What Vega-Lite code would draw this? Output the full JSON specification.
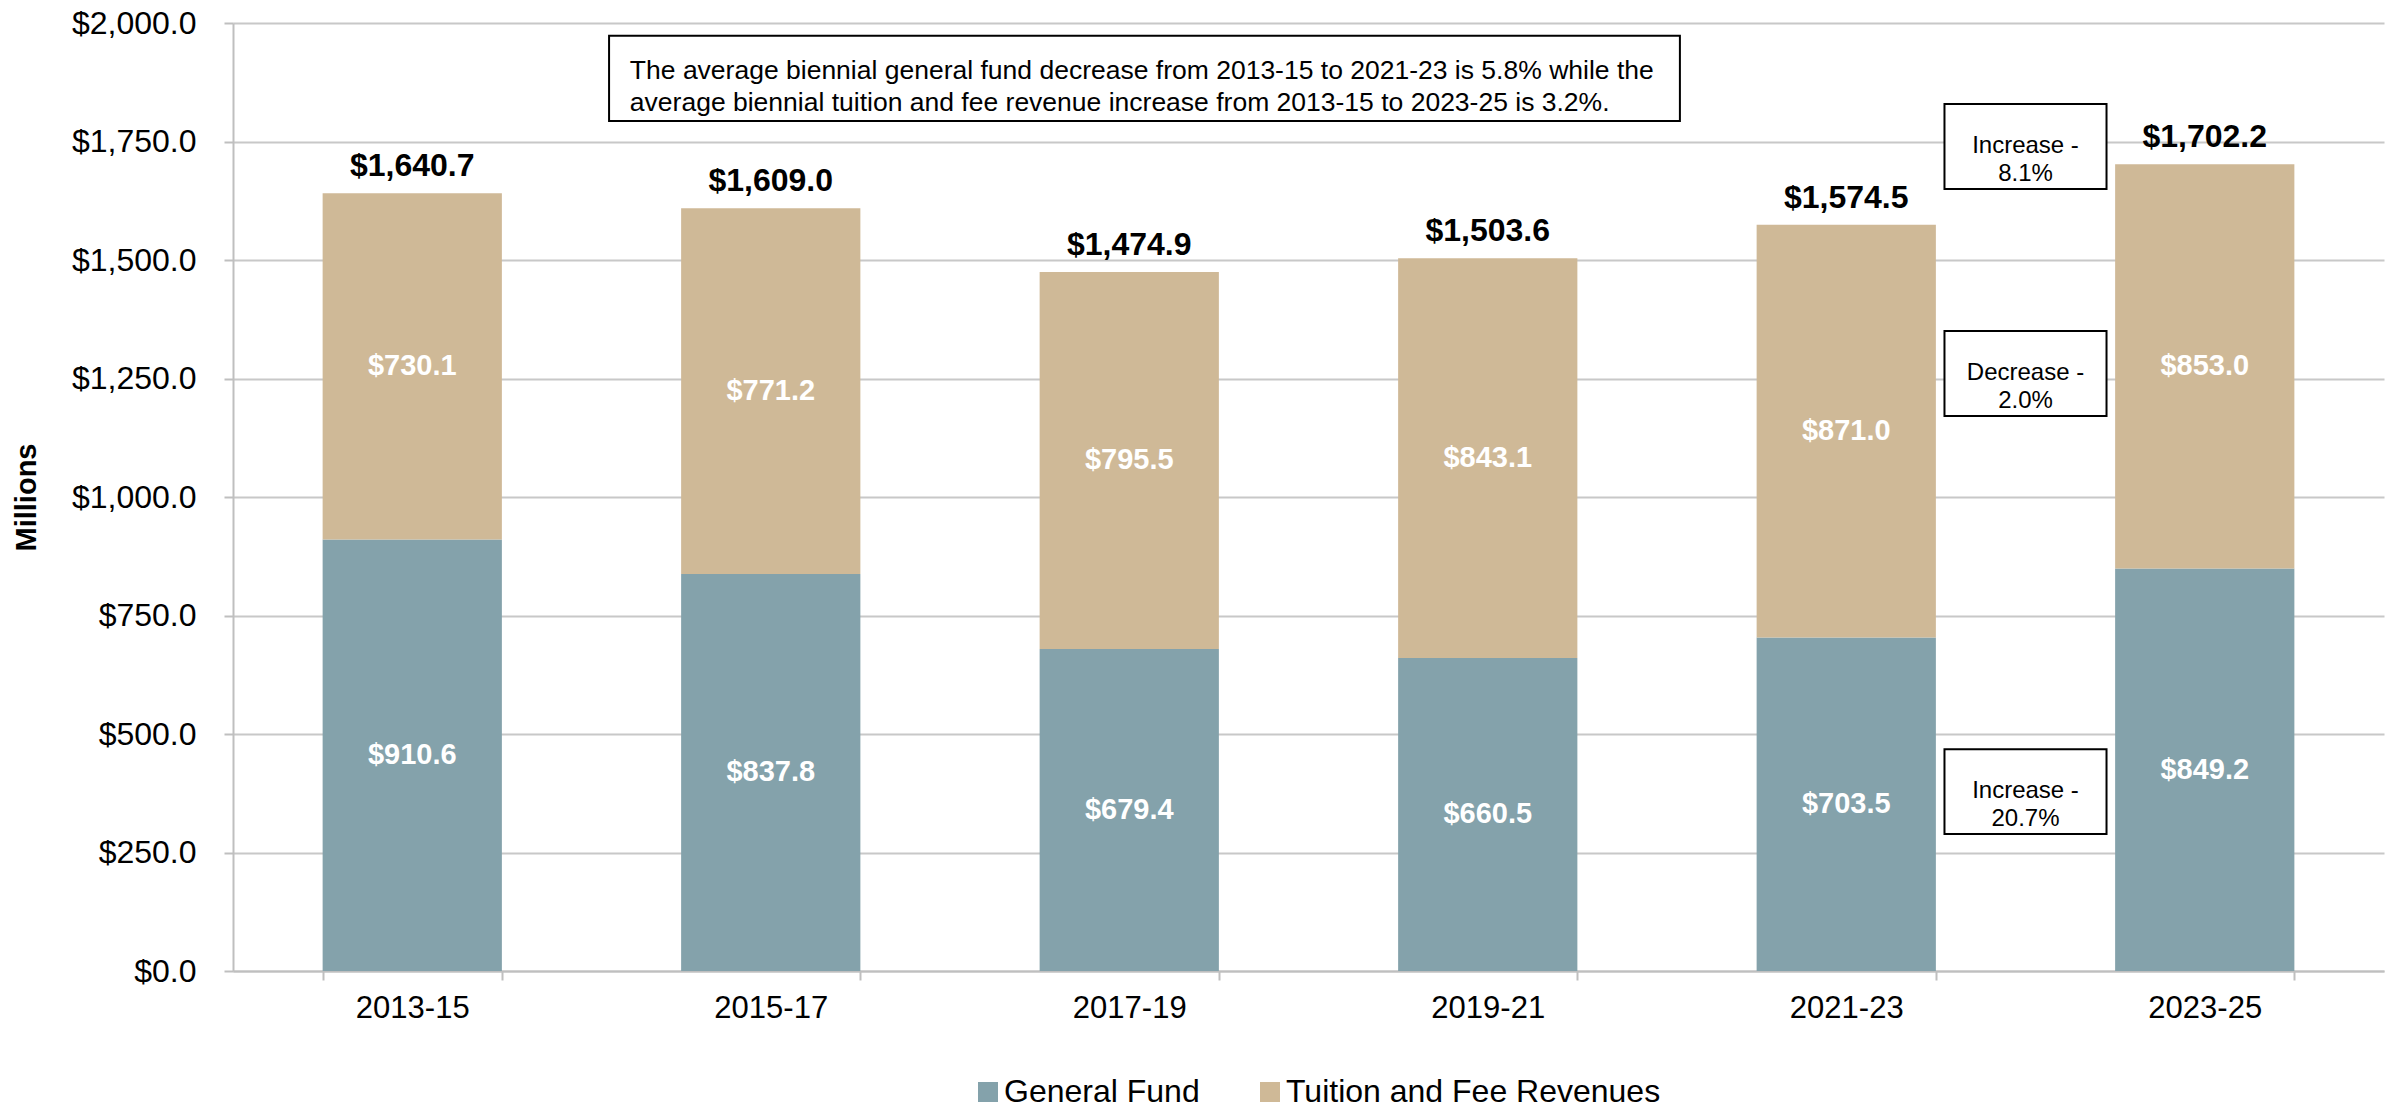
{
  "$schema": "https://vega.github.io/schema/vega-lite/v6.json",
  "width": 2151,
  "height": 948,
  "autosize": {"type": "none"},
  "padding": {"left": 233, "top": 23, "right": 15, "bottom": 137},
  "background": "white",
  "config": {"view": {"stroke": null}, "font": "Liberation Sans"},
  "datasets": {
    "funding": [
      {"period": "2013-15", "series": "General Fund", "value": 910.6},
      {"period": "2013-15", "series": "Tuition and Fee Revenues", "value": 730.1},
      {"period": "2015-17", "series": "General Fund", "value": 837.8},
      {"period": "2015-17", "series": "Tuition and Fee Revenues", "value": 771.2},
      {"period": "2017-19", "series": "General Fund", "value": 679.4},
      {"period": "2017-19", "series": "Tuition and Fee Revenues", "value": 795.5},
      {"period": "2019-21", "series": "General Fund", "value": 660.5},
      {"period": "2019-21", "series": "Tuition and Fee Revenues", "value": 843.1},
      {"period": "2021-23", "series": "General Fund", "value": 703.5},
      {"period": "2021-23", "series": "Tuition and Fee Revenues", "value": 871.0},
      {"period": "2023-25", "series": "General Fund", "value": 849.2},
      {"period": "2023-25", "series": "Tuition and Fee Revenues", "value": 853.0}
    ],
    "notes": [
      {"x0": 4.774, "x1": 5.226, "lo": 1650, "hi": 1829, "mid": 1741, "label": "Increase -\n8.1%"},
      {"x0": 4.774, "x1": 5.226, "lo": 1171, "hi": 1350, "mid": 1262, "label": "Decrease -\n2.0%"},
      {"x0": 4.774, "x1": 5.226, "lo": 289, "hi": 468, "mid": 380, "label": "Increase -\n20.7%"}
    ],
    "bigNote": [
      {"x0": 1.049, "x1": 4.036, "lo": 1793, "hi": 1973, "mid": 1899, "tx": 1.107,
       "label": "The average biennial general fund decrease from 2013-15 to 2021-23 is 5.8% while the\naverage biennial tuition and fee revenue increase from 2013-15 to 2023-25 is 3.2%."}
    ]
  },
  "layer": [
    {
      "data": {"name": "funding"},
      "layer": [
        {
          "mark": {"type": "bar"},
          "encoding": {
            "x": {
              "field": "period", "type": "nominal",
              "sort": ["2013-15", "2015-17", "2017-19", "2019-21", "2021-23", "2023-25"],
              "scale": {"paddingInner": 0.5, "paddingOuter": 0.25},
              "axis": {
                "title": null, "labelAngle": 0, "labelFontSize": 31, "labelColor": "#000000",
                "labelPadding": 13, "tickBand": "extent", "tickSize": 9, "tickColor": "#BFBFBF",
                "tickWidth": 2, "domainColor": "#BFBFBF", "domainWidth": 2, "grid": false
              }
            },
            "y": {
              "field": "value", "type": "quantitative", "stack": "zero",
              "scale": {"domain": [0, 2000], "nice": false},
              "axis": {
                "title": "Millions", "titleFontSize": 29, "titleFontWeight": "bold", "titleColor": "#000000",
                "titlePadding": 30,
                "values": [0, 250, 500, 750, 1000, 1250, 1500, 1750, 2000],
                "format": "$,.1f", "labelFontSize": 32, "labelColor": "#000000", "labelPadding": 28,
                "tickSize": 9, "tickColor": "#BFBFBF", "tickWidth": 2,
                "domain": true, "domainColor": "#BFBFBF", "domainWidth": 2,
                "grid": true, "gridColor": "#C8C8C8", "gridWidth": 2
              }
            },
            "order": {"field": "series", "sort": "ascending"},
            "color": {
              "field": "series", "type": "nominal",
              "scale": {"domain": ["General Fund", "Tuition and Fee Revenues"], "range": ["#84A2AB", "#CFB997"]},
              "legend": {
                "orient": "none", "legendX": 739, "legendY": 1053, "direction": "horizontal",
                "title": null, "symbolType": "square", "symbolSize": 400, "symbolStrokeWidth": 0,
                "labelFontSize": 32, "labelColor": "#000000", "labelOffset": 0, "columnPadding": 54,
                "labelLimit": 0, "padding": 0
              }
            }
          }
        },
        {
          "transform": [
            {"stack": "value", "groupby": ["period"], "sort": [{"field": "series", "order": "ascending"}], "as": ["v0", "v1"]},
            {"calculate": "(datum.v0 + datum.v1) / 2", "as": "center"}
          ],
          "mark": {"type": "text", "color": "#FFFFFF", "fontWeight": "bold", "fontSize": 29, "baseline": "middle"},
          "encoding": {
            "x": {"field": "period", "type": "nominal", "sort": ["2013-15", "2015-17", "2017-19", "2019-21", "2021-23", "2023-25"]},
            "y": {"field": "center", "type": "quantitative"},
            "text": {"field": "value", "type": "quantitative", "format": "$,.1f"}
          }
        },
        {
          "transform": [
            {"aggregate": [{"op": "sum", "field": "value", "as": "total"}], "groupby": ["period"]}
          ],
          "mark": {"type": "text", "color": "#000000", "fontWeight": "bold", "fontSize": 32, "baseline": "alphabetic", "dy": -17},
          "encoding": {
            "x": {"field": "period", "type": "nominal", "sort": ["2013-15", "2015-17", "2017-19", "2019-21", "2021-23", "2023-25"]},
            "y": {"field": "total", "type": "quantitative"},
            "text": {"field": "total", "type": "quantitative", "format": "$,.1f"}
          }
        }
      ]
    },
    {
      "data": {"name": "bigNote"},
      "layer": [
        {
          "mark": {"type": "rect", "fill": "#FFFFFF", "stroke": "#000000", "strokeWidth": 2},
          "encoding": {
            "x": {"field": "x0", "type": "quantitative", "scale": {"domain": [0, 6], "nice": false, "zero": false}, "axis": null},
            "x2": {"field": "x1"},
            "y": {"field": "lo", "type": "quantitative"},
            "y2": {"field": "hi"}
          }
        },
        {
          "mark": {"type": "text", "align": "left", "baseline": "middle", "fontSize": 26.5, "lineHeight": 32, "lineBreak": "\n", "color": "#000000"},
          "encoding": {
            "x": {"field": "tx", "type": "quantitative", "scale": {"domain": [0, 6], "nice": false, "zero": false}, "axis": null},
            "y": {"field": "mid", "type": "quantitative"},
            "text": {"field": "label"}
          }
        }
      ]
    },
    {
      "data": {"name": "notes"},
      "layer": [
        {
          "mark": {"type": "rect", "fill": "#FFFFFF", "stroke": "#000000", "strokeWidth": 2},
          "encoding": {
            "x": {"field": "x0", "type": "quantitative", "scale": {"domain": [0, 6], "nice": false, "zero": false}, "axis": null},
            "x2": {"field": "x1"},
            "y": {"field": "lo", "type": "quantitative"},
            "y2": {"field": "hi"}
          }
        },
        {
          "transform": [{"calculate": "(datum.x0 + datum.x1) / 2", "as": "xc"}],
          "mark": {"type": "text", "align": "center", "baseline": "middle", "fontSize": 24, "lineHeight": 28, "lineBreak": "\n", "color": "#000000"},
          "encoding": {
            "x": {"field": "xc", "type": "quantitative", "scale": {"domain": [0, 6], "nice": false, "zero": false}, "axis": null},
            "y": {"field": "mid", "type": "quantitative"},
            "text": {"field": "label"}
          }
        }
      ]
    }
  ],
  "resolve": {"scale": {"x": "independent"}}
}
